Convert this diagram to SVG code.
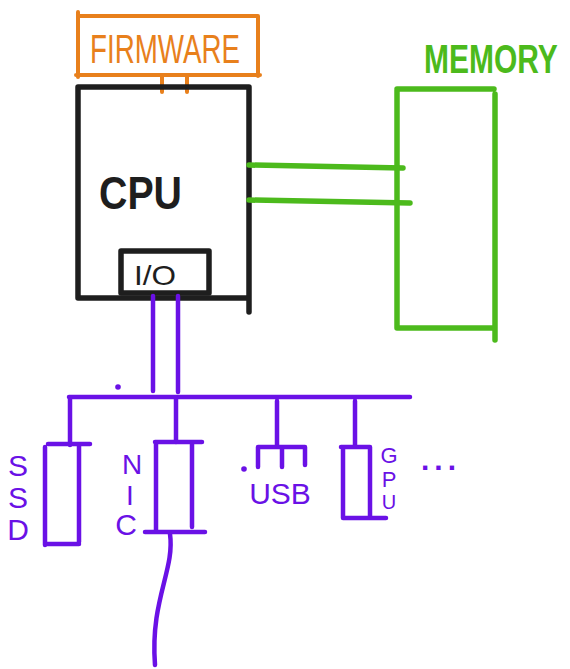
<svg xmlns="http://www.w3.org/2000/svg" width="570" height="669" viewBox="0 0 570 669">
<style>
.k{fill:none;stroke:#1e1e1e;stroke-width:5.5;stroke-linecap:round;stroke-linejoin:round}
.o{fill:none;stroke:#e8801c;stroke-width:4;stroke-linecap:round;stroke-linejoin:round}
.g{fill:none;stroke:#4cba1c;stroke-width:5.5;stroke-linecap:round;stroke-linejoin:round}
.p{fill:none;stroke:#6a11e6;stroke-width:4.5;stroke-linecap:round;stroke-linejoin:round}
.t{font-family:"Liberation Sans",Arial,sans-serif}
.pt{fill:#6a11e6;text-anchor:middle}
</style>
<rect width="570" height="669" fill="#fff"/>
<g id="firmware">
<path class="o" d="M78 12 V77 M78 16 H258 V76 M76 75 H260 M162 76 V92 M187 75 V92"/>
<text class="t" x="90" y="63" font-size="40" fill="#e8801c" textLength="150" lengthAdjust="spacingAndGlyphs">FIRMWARE</text>
</g>
<g id="cpu">
<path class="k" d="M78 87 V298 M78 87 H249 V312 M78 298 H249"/>
<text class="t" x="99" y="209" font-size="46" font-weight="bold" fill="#1e1e1e" textLength="83" lengthAdjust="spacingAndGlyphs">CPU</text>
</g>
<g id="io">
<path class="k" d="M121 251 H209 V293 H121 Z" stroke-width="3.5"/>
<text class="t" x="134" y="285" font-size="28" fill="#1e1e1e" textLength="42" lengthAdjust="spacingAndGlyphs">I/O</text>
</g>
<g id="memory">
<path class="g" d="M397 90 V328 M397 89 H494 M495 94 V340 M397 328 H493"/>
<text class="t" transform="translate(424,73) scale(1,1.35)" x="0" y="0" font-size="30" font-weight="bold" fill="#4cba1c">MEMORY</text>
</g>
<g id="connectors">
<path class="g" d="M249 165 L403 168 M249 200 L410 203"/>
<path class="p" d="M153 296 V391 M178 296 V392 M69 397 H410 M70 397 V445 M176 397 V442 M277 401 V445 M355 401 V446"/>
<path class="p" d="M170 534 C 175 570, 150 600, 155 665" stroke-width="3"/>
<circle cx="118" cy="387" r="2.8" fill="#6a11e6"/>
</g>
<g id="ssd">
<path class="p" d="M45 447 V545 M48 444 H90 M79 445 V542 M45 544 H79"/>
<text class="t pt" x="18" y="476" font-size="30">S</text>
<text class="t pt" x="18" y="508" font-size="30">S</text>
<text class="t pt" x="18" y="540" font-size="30">D</text>
</g>
<g id="nic">
<path class="p" d="M156 444 V530 M155 442 H202 M192 444 V527 M145 532 H205"/>
<text class="t pt" x="132" y="474" font-size="28">N</text>
<text class="t pt" x="130" y="505" font-size="28">I</text>
<text class="t pt" x="126" y="535" font-size="30">C</text>
</g>
<g id="usb">
<path class="p" d="M258 447 H305 M258 447 V467 M282 447 V467 M305 447 V465"/>
<circle cx="244" cy="469" r="2.8" fill="#6a11e6"/>
<text class="t pt" x="280" y="504" font-size="30">USB</text>
</g>
<g id="gpu">
<path class="p" d="M341 447 H370 V518 M343 447 V518 M343 518 H386"/>
<text class="t pt" x="389" y="463" font-size="22">G</text>
<text class="t pt" x="389" y="487" font-size="22">P</text>
<text class="t pt" x="389" y="509" font-size="20">U</text>
<text class="t pt" x="441" y="470" font-size="30" font-weight="bold" letter-spacing="5">...</text>
</g>
</svg>
